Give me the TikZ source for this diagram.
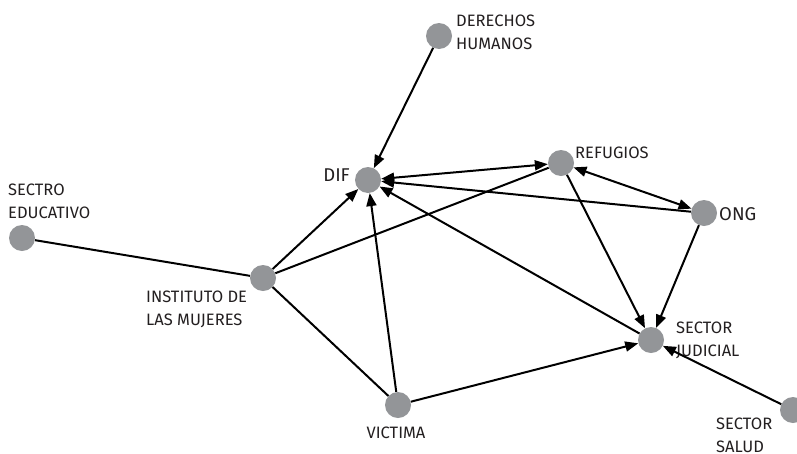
\documentclass[tikz,border=0pt]{standalone}
\usepackage{fontspec}
\setmainfont{Fira Sans}
\usetikzlibrary{arrows.meta}
\tikzset{
  actor/.style={circle,fill=ng,inner sep=0pt,minimum size=26pt},
  lab/.style={font=\fontsize{16.5}{23}\selectfont,text=tx,inner sep=0pt,align=left},
  biglab/.style={font=\fontsize{18.5}{20}\selectfont,text=tx,inner sep=0pt},
  link/.style={line width=2pt,black},
  arr/.style={link,-{Triangle[length=13pt,width=10pt]}},
  darr/.style={link,{Triangle[length=13pt,width=10pt]}-{Triangle[length=13pt,width=10pt]}}
}
\definecolor{ng}{HTML}{939598}
\definecolor{tx}{HTML}{231F20}
\begin{document}
\begin{tikzpicture}[x=1pt,y=-1pt]
\useasboundingbox (0,0) rectangle (797,453);
\node[actor] (dh) at (439,36) {};
\node[actor] (dif) at (368,180) {};
\node[actor] (ref) at (561,163) {};
\node[actor] (ong) at (704,213) {};
\node[actor] (edu) at (22,238) {};
\node[actor] (inst) at (263,278) {};
\node[actor] (vic) at (398,405) {};
\node[actor] (jud) at (651,340) {};
\node[actor] (sal) at (793,410) {};

\node[lab,anchor=west] (ldh) at (456,32) {DERECHOS\\HUMANOS};
\node[biglab,anchor=east] (ldif) at (350,175) {DIF};
\node[lab,anchor=west] (lref) at (575,153) {REFUGIOS};
\node[biglab,anchor=west] (long) at (719,214) {ONG};
\node[lab,anchor=west] (ledu) at (8,201) {SECTRO\\EDUCATIVO};
\node[lab,anchor=west] (linst) at (146,309) {INSTITUTO DE\\LAS MUJERES};
\node[lab,anchor=center] (lvic) at (396,433) {VICTIMA};
\node[lab,anchor=west] (ljud) at (676,340) {SECTOR\\JUDICIAL};
\node[lab,anchor=west] (lsal) at (716,435) {SECTOR\\SALUD};

\draw[link] (edu) -- (inst);
\draw[link] (inst) -- (ref);
\draw[link] (inst) -- (vic);
\draw[arr] (dh) -- (dif);
\draw[arr] (inst) -- (dif);
\draw[arr] (vic) -- (dif);
\draw[arr] (ong) -- (dif);
\draw[arr] (jud) -- (dif);
\draw[darr] (dif) -- (ref);
\draw[darr] (ref) -- (ong);
\draw[arr] (ref) -- (jud);
\draw[arr] (ong) -- (jud);
\draw[arr] (vic) -- (jud);
\draw[arr] (sal) -- (jud);
\end{tikzpicture}
\end{document}
